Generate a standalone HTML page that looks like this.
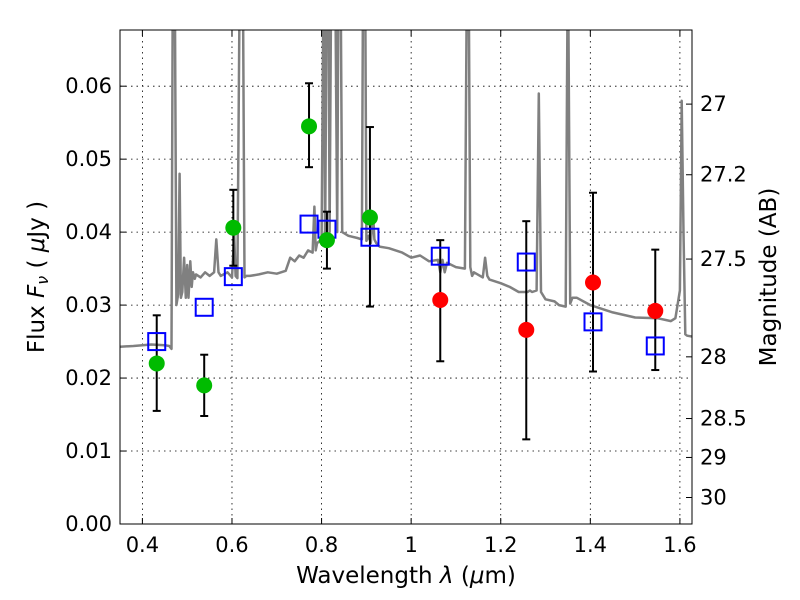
<!DOCTYPE html>
<html><head><meta charset="utf-8"><style>
body{margin:0;background:#fff}
svg{display:block;font-family:"DejaVu Sans","Liberation Sans",sans-serif}
</style></head><body>
<svg id="chart" width="800" height="600" xmlns="http://www.w3.org/2000/svg">
<defs><clipPath id="clip"><rect x="120" y="30" width="572" height="494"/></clipPath></defs>
<rect width="800" height="600" fill="#fff"/>
<g id="grid"></g>
<g id="spec" clip-path="url(#clip)"></g>
<g id="marks"></g>
<rect x="120" y="30" width="572" height="494" fill="none" stroke="#000" stroke-width="1"/>
<g id="axes"></g>
<text x="406" y="583" font-size="23" text-anchor="middle">Wavelength  <tspan font-style="italic">λ</tspan> (<tspan font-style="italic">μ</tspan>m)</text>
<text transform="translate(44,277) rotate(-90)" font-size="23" text-anchor="middle">Flux  <tspan font-style="italic">F</tspan><tspan font-style="italic" font-size="16" dy="4">ν</tspan><tspan dy="-4">  ( </tspan><tspan font-style="italic">μ</tspan>Jy )</text>
<text transform="translate(776,277) rotate(-90)" font-size="23" text-anchor="middle">Magnitude (AB)</text>
</svg>
<script>
const specWave=[0.35,0.38,0.42,0.45,0.46,0.465,0.468,0.472,0.476,0.48,0.483,0.486,0.489,0.493,0.497,0.5,0.503,0.507,0.51,0.513,0.517,0.52,0.53,0.54,0.55,0.56,0.565,0.57,0.575,0.59,0.6,0.605,0.608,0.612,0.618,0.621,0.624,0.628,0.632,0.64,0.66,0.68,0.7,0.72,0.73,0.74,0.75,0.76,0.77,0.78,0.784,0.787,0.79,0.8,0.805,0.808,0.812,0.815,0.818,0.822,0.826,0.83,0.835,0.838,0.842,0.846,0.86,0.88,0.89,0.893,0.897,0.9,0.905,0.91,0.915,0.918,0.922,0.93,0.95,0.98,1.0,1.02,1.04,1.06,1.065,1.07,1.075,1.08,1.1,1.12,1.125,1.128,1.132,1.136,1.14,1.16,1.165,1.17,1.175,1.2,1.22,1.24,1.26,1.265,1.27,1.28,1.285,1.29,1.3,1.32,1.33,1.345,1.35,1.355,1.36,1.37,1.4,1.45,1.5,1.55,1.58,1.59,1.6,1.604,1.608,1.612,1.616,1.627];
const specFlux=[0.0243,0.0244,0.0246,0.0245,0.0244,0.0240,0.080,0.080,0.0300,0.0315,0.048,0.031,0.0318,0.0365,0.0310,0.0355,0.0310,0.0360,0.0325,0.0345,0.0336,0.0342,0.0338,0.0345,0.0340,0.0345,0.0390,0.0345,0.0340,0.0345,0.0338,0.0395,0.034,0.0337,0.080,0.080,0.080,0.0338,0.0340,0.0340,0.0342,0.0345,0.0343,0.0347,0.0365,0.0360,0.0368,0.0365,0.0375,0.0372,0.0435,0.0375,0.0385,0.0390,0.080,0.038,0.080,0.080,0.040,0.080,0.080,0.080,0.0400,0.080,0.080,0.0400,0.0395,0.0392,0.0390,0.080,0.080,0.0388,0.0395,0.0385,0.0425,0.0390,0.0385,0.0380,0.0378,0.0372,0.0365,0.0368,0.0360,0.0362,0.0345,0.0362,0.0345,0.0358,0.0352,0.0350,0.080,0.080,0.0352,0.0340,0.0345,0.0338,0.0365,0.0340,0.0335,0.0330,0.0325,0.0318,0.0318,0.0320,0.0318,0.0320,0.059,0.0318,0.0308,0.0305,0.0300,0.0298,0.080,0.0302,0.0310,0.0310,0.0300,0.0290,0.0283,0.0282,0.0278,0.0282,0.032,0.058,0.040,0.0260,0.0258,0.0257];
const photWave=[0.432,0.538,0.603,0.772,0.812,0.908,1.065,1.257,1.406,1.545];
const photFlux=[0.0220,0.0190,0.0406,0.0545,0.0389,0.0420,0.0307,0.0266,0.0331,0.0292];
const errHigh=[0.0286,0.0232,0.0458,0.0604,0.0428,0.0544,0.0389,0.0415,0.0454,0.0376];
const errLow=[0.0155,0.0148,0.0354,0.0489,0.0350,0.0298,0.0223,0.0116,0.0209,0.0211];
const photType=['g','g','g','g','g','g','r','r','r','r'];
const modelFlux=[0.0250,0.0297,0.0339,0.0411,0.0404,0.0393,0.0367,0.0359,0.0277,0.0244];
const xTicks=[0.4,0.6,0.8,1.0,1.2,1.4,1.6];
const xTickLabels=['0.4','0.6','0.8','1','1.2','1.4','1.6'];
const yTicks=[0,0.01,0.02,0.03,0.04,0.05,0.06];
const yTickLabels=['0.00','0.01','0.02','0.03','0.04','0.05','0.06'];
const magTicks=[27,27.2,27.5,28,28.5,29,30];
const magTickLabels=['27','27.2','27.5','28','28.5','29','30'];

const X0=120,X1=692,Y0=524,Y1=30,XMIN=0.35,XMAX=1.627,YMIN=0,YMAX=0.0677;
const sx=v=>X0+(v-XMIN)/(XMAX-XMIN)*(X1-X0);
const sy=v=>Y0-(v-YMIN)/(YMAX-YMIN)*(Y0-Y1);
const magToFlux=m=>Math.pow(10,(23.9-m)/2.5);
const NS='http://www.w3.org/2000/svg';
function mk(tag,attrs,parent){const e=document.createElementNS(NS,tag);for(const k in attrs)e.setAttribute(k,attrs[k]);parent.appendChild(e);return e;}
const grid=document.getElementById('grid'),axes=document.getElementById('axes'),spec=document.getElementById('spec'),marks=document.getElementById('marks');

xTicks.forEach((t,i)=>{const x=sx(t);
 const g=mk('line',{x1:x,x2:x,y1:Y1,y2:Y0,stroke:'#000','stroke-width':0.8,'stroke-dasharray':'1.5,4'},grid);
 
 
 mk('line',{x1:x,x2:x,y1:Y0,y2:Y0-6,stroke:'#000'},axes);
 mk('line',{x1:x,x2:x,y1:Y1,y2:Y1+6,stroke:'#000'},axes);
 const l=mk('text',{x:x,y:Y0+28,'font-size':21,'text-anchor':'middle'},axes);l.textContent=xTickLabels[i];
 
 
});
yTicks.forEach((t,i)=>{const y=sy(t);
 if(t>0){const g=mk('line',{x1:X0,x2:X1,y1:y,y2:y,stroke:'#000','stroke-width':0.8,'stroke-dasharray':'1.5,4'},grid);
 
 }
 mk('line',{x1:X0,x2:X0+6,y1:y,y2:y,stroke:'#000'},axes);
 const l=mk('text',{x:X0-8,y:y+7,'font-size':21,'text-anchor':'end'},axes);l.textContent=yTickLabels[i];
 
 
});
magTicks.forEach((m,i)=>{const y=sy(magToFlux(m));
 mk('line',{x1:X1,x2:X1-6,y1:y,y2:y,stroke:'#000'},axes);
 const l=mk('text',{x:X1+8,y:y+7,'font-size':21,'text-anchor':'start'},axes);l.textContent=magTickLabels[i];
 
 
});
const d=specWave.map((w,i)=>(i?'L':'M')+sx(w).toFixed(1)+','+sy(specFlux[i]).toFixed(1)).join('');
const p=mk('path',{d:d,fill:'none',stroke:'#808080','stroke-width':2.5,'stroke-linejoin':'round'},spec);



photWave.forEach((w,i)=>{const x=sx(w);
 const e=mk('g',{},marks);
 
 
 mk('line',{x1:x,x2:x,y1:sy(errHigh[i]),y2:sy(errLow[i]),stroke:'#000','stroke-width':2},e);
 mk('line',{x1:x-4,x2:x+4,y1:sy(errHigh[i]),y2:sy(errHigh[i]),stroke:'#000','stroke-width':2},e);
 mk('line',{x1:x-4,x2:x+4,y1:sy(errLow[i]),y2:sy(errLow[i]),stroke:'#000','stroke-width':2},e);
});
photWave.forEach((w,i)=>{
 const s=mk('rect',{x:sx(w)-8.5,y:sy(modelFlux[i])-8.5,width:17,height:17,fill:'none',stroke:'#0000ff','stroke-width':2},marks);
 
 
});
photWave.forEach((w,i)=>{
 const c=mk('circle',{cx:sx(w),cy:sy(photFlux[i]),r:8,fill:photType[i]==='g'?'#00bb00':'#ff0000'},marks);
 
 
});
</script>
</body></html>
